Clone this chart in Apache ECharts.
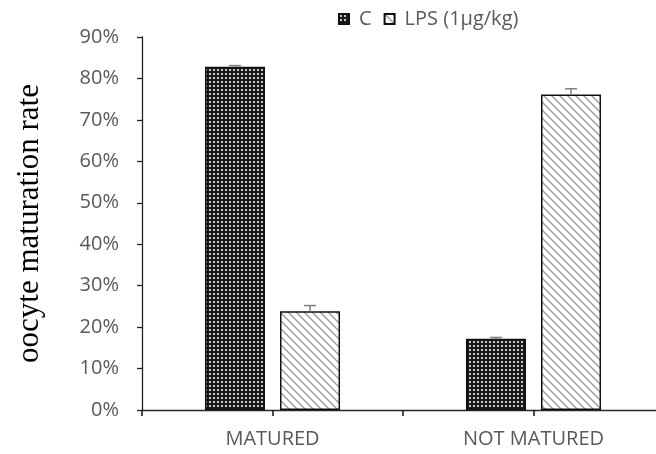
<!DOCTYPE html>
<html><head><meta charset="utf-8">
<script src="https://cdn.jsdelivr.net/npm/echarts@6/dist/echarts.min.js"></script>
<style>html,body{margin:0;padding:0;background:#fff}#c{width:656px;height:454px}</style>
</head><body><div id="c"></div>
<script>
const categories = ['MATURED', 'NOT MATURED'];
const seriesNames = ['C', 'LPS (1\u03bcg/kg)'];
const valuesC = [82.8, 17.2];
const valuesLPS = [23.8, 76.1];
const errC = [0.3, 0.3];
const errLPS = [1.4, 1.4];
const yTicks = [0, 10, 20, 30, 40, 50, 60, 70, 80, 90];

function makeDots() {
  const c = document.createElement('canvas'); c.width = 4; c.height = 4;
  const g = c.getContext('2d');
  g.fillStyle = '#1a1a1a'; g.fillRect(0, 0, 4, 4);
  g.fillStyle = '#c8c8c8'; g.fillRect(1, 1, 2, 2);
  return c;
}
function makeStripes() {
  const c = document.createElement('canvas'); c.width = 8; c.height = 8;
  const g = c.getContext('2d');
  g.fillStyle = '#ffffff'; g.fillRect(0, 0, 8, 8);
  g.strokeStyle = '#959595'; g.lineWidth = 1.3;
  g.beginPath();
  g.moveTo(-1, -1); g.lineTo(9, 9);
  g.moveTo(-5, 3); g.lineTo(5, 13);
  g.moveTo(3, -5); g.lineTo(13, 5);
  g.stroke();
  return c;
}
const patC = { image: makeDots(), repeat: 'repeat' };
const patL = { image: makeStripes(), repeat: 'repeat' };

const BW = 0.23, GAP = 0.25;
function errItem(offsetSign, vals, errs) {
  return function (params, api) {
    const i = api.value(0);
    const band = api.size([1, 0])[0];
    const bw = band * BW;
    const off = offsetSign * (bw / 2 + bw * GAP / 2);
    const p0 = api.coord([i, vals[i]]);
    const p1 = api.coord([i, vals[i] + errs[i]]);
    const x = p0[0] + off;
    const st = { stroke: '#7f7f7f', lineWidth: 1.5 };
    return { type: 'group', children: [
      { type: 'line', shape: { x1: x, y1: p0[1], x2: x, y2: p1[1] }, style: st },
      { type: 'line', shape: { x1: x - 6, y1: p1[1], x2: x + 6, y2: p1[1] }, style: st }
    ]};
  };
}

const chart = echarts.init(document.getElementById('c'), null, { renderer: 'canvas' });
const txt = '#595959', font = "'Open Sans', sans-serif";
const tickStyle = { color: '#111', width: 1.5 };
chart.setOption({
  animation: false,
  backgroundColor: '#fff',
  legend: {
    left: 333, top: 4, itemWidth: 10, itemHeight: 10, itemGap: 12,
    icon: 'rect',
    textStyle: { color: txt, fontSize: 20, fontFamily: font, padding: [0, 0, 0, 5] },
    data: seriesNames
  },
  grid: { left: 142, right: -8, top: 37, bottom: 44, containLabel: false, outerBoundsMode: 'none' },
  xAxis: [{
    type: 'category', data: categories,
    axisLine: { lineStyle: { color: '#262626', width: 1.3 } },
    axisTick: { show: true, alignWithLabel: true, interval: 0, length: 6, lineStyle: tickStyle },
    axisLabel: { color: txt, fontSize: 20, fontFamily: font, margin: 19, interval: 0 }
  }, {
    type: 'value', min: 0, max: 4, interval: 1, position: 'bottom',
    axisLine: { show: true, lineStyle: { color: 'rgba(0,0,0,0)' } },
    axisTick: { show: true, length: 6, lineStyle: tickStyle },
    axisLabel: { show: true, color: 'rgba(0,0,0,0)', fontSize: 1, formatter: function () { return '\u00a0'; } },
    splitLine: { show: false }
  }],
  yAxis: {
    type: 'value', min: yTicks[0], max: yTicks[yTicks.length - 1], interval: 10,
    name: 'oocyte maturation rate', nameLocation: 'middle', nameGap: 97,
    nameTextStyle: { fontFamily: "'Liberation Serif', 'Times New Roman', serif", fontSize: 31, color: '#000' },
    axisLine: { show: true, lineStyle: { color: '#262626', width: 1.3 } },
    axisTick: { show: true, length: 5, lineStyle: { color: '#262626', width: 1.3 } },
    splitLine: { show: false },
    axisLabel: { color: txt, fontSize: 20, fontFamily: font, margin: 23, formatter: '{value}%' }
  },
  series: [
    { name: seriesNames[0], type: 'bar', data: valuesC, barWidth: (BW * 100) + '%', barGap: (GAP * 100) + '%',
      itemStyle: { color: patC, borderColor: '#111', borderWidth: 1.5 } },
    { name: seriesNames[1], type: 'bar', data: valuesLPS, barWidth: (BW * 100) + '%', barGap: (GAP * 100) + '%',
      itemStyle: { color: patL, borderColor: '#111', borderWidth: 1.5 } },
    { type: 'custom', renderItem: errItem(-1, valuesC, errC), data: [[0], [1]], z: 5, silent: true },
    { type: 'custom', renderItem: errItem(1, valuesLPS, errLPS), data: [[0], [1]], z: 5, silent: true }
  ]
});
</script></body></html>
